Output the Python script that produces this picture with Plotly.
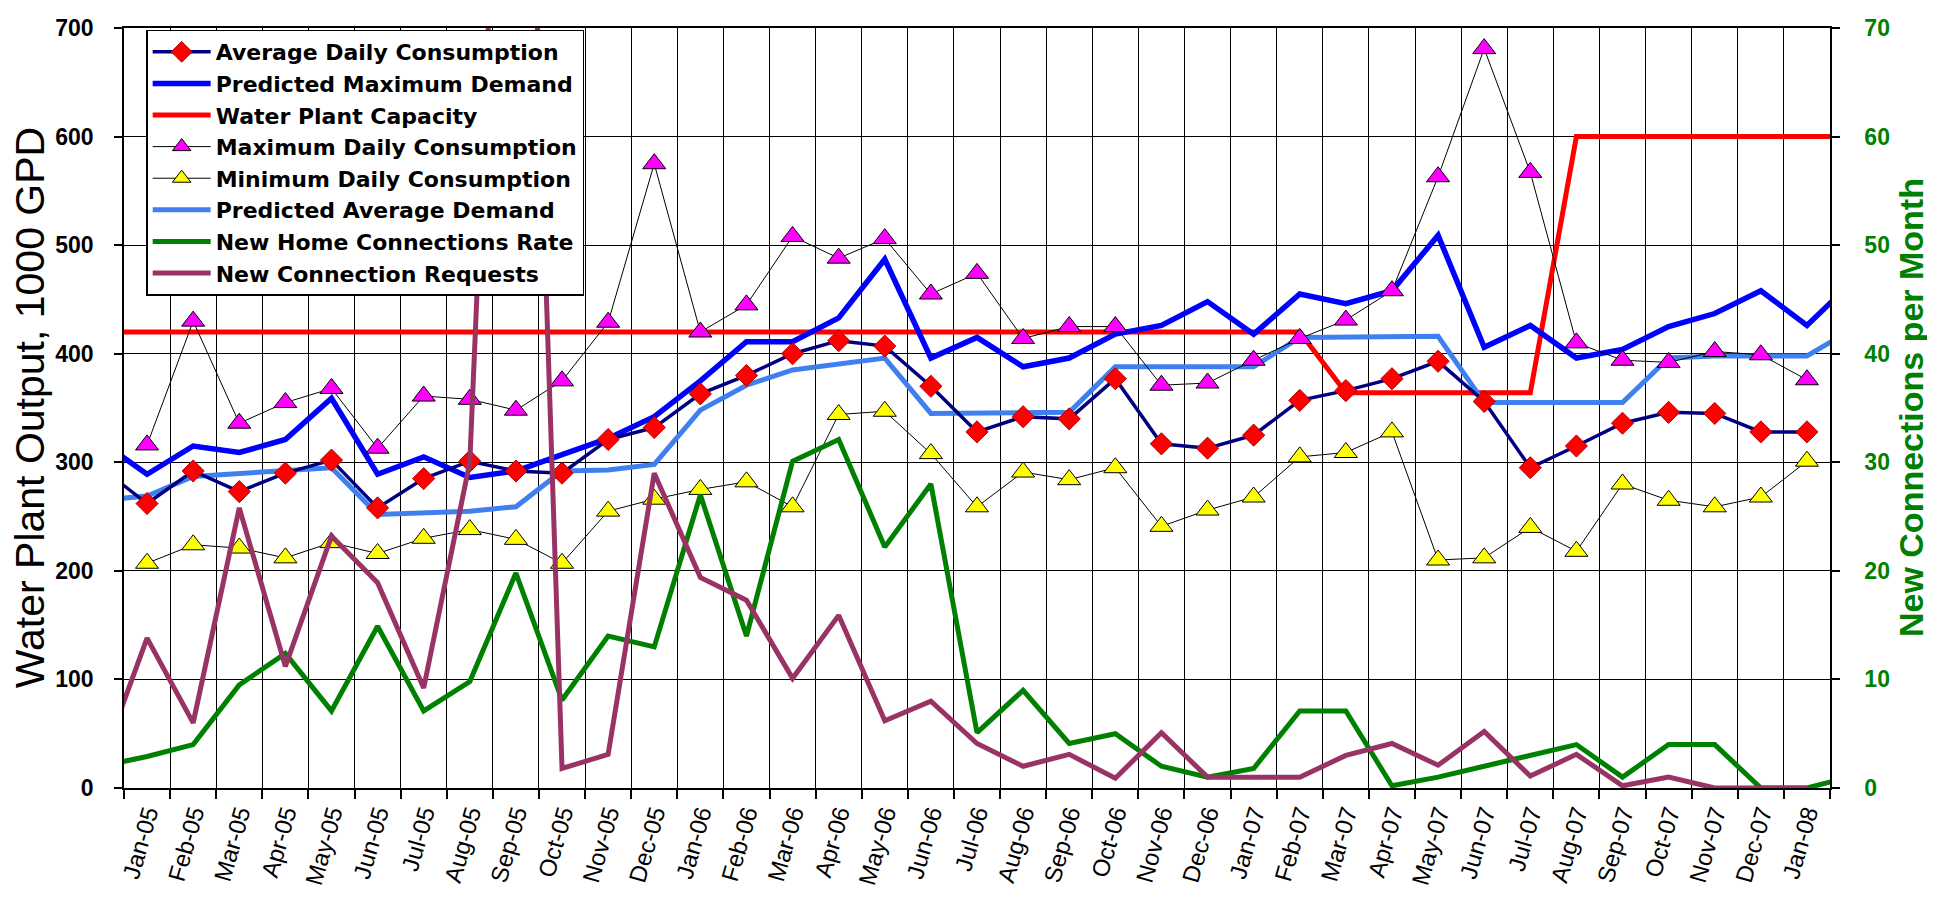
import plotly.graph_objects as go

months = ["Dec-04",
          "Jan-05", "Feb-05", "Mar-05", "Apr-05", "May-05", "Jun-05", "Jul-05", "Aug-05", "Sep-05", "Oct-05", "Nov-05", "Dec-05",
          "Jan-06", "Feb-06", "Mar-06", "Apr-06", "May-06", "Jun-06", "Jul-06", "Aug-06", "Sep-06", "Oct-06", "Nov-06", "Dec-06",
          "Jan-07", "Feb-07", "Mar-07", "Apr-07", "May-07", "Jun-07", "Jul-07", "Aug-07", "Sep-07", "Oct-07", "Nov-07", "Dec-07",
          "Jan-08", "Feb-08"]

avg_daily = [295,
             262, 292, 273, 290, 302, 258, 285, 301, 292, 290, 321, 332,
             363, 380, 400, 412, 407, 370, 328, 342, 340, 377, 317, 313,
             325, 357, 366, 377, 393, 356, 295, 315, 336, 346, 345, 328,
             328, None]

pred_max = [319,
            289, 315, 309, 321, 359, 289, 305, 286, 292, 307, 322, 342,
            375, 411, 411, 433, 487, 396, 415, 388, 396, 418, 426, 448,
            418, 455, 446, 458, 509, 406, 426, 396, 404, 425, 437, 458,
            426, 467]

capacity = [420,
            420, 420, 420, 420, 420, 420, 420, 420, 420, 420, 420, 420,
            420, 420, 420, 420, 420, 420, 420, 420, 420, 420, 420, 420,
            420, 420, 364, 364, 364, 364, 364, 600, 600, 600, 600, 600,
            600, 600]

max_daily = [None,
             316, 430, 336, 355, 368, 313, 361, 358, 348, 375, 429, 575,
             420, 445, 508, 488, 506, 455, 474, 414, 425, 425, 371, 373,
             394, 414, 431, 458, 563, 681, 567, 410, 394, 392, 402, 399,
             376, None]

min_daily = [None,
             207, 224, 221, 212, 226, 216, 230, 238, 229, 207, 255, 266,
             275, 282, 259, 344, 347, 308, 259, 291, 284, 295, 241, 256,
             268, 305, 309, 328, 210, 212, 240, 218, 280, 265, 259, 268,
             301, None]

pred_avg = [265,
            269, 287, 290, 292, 295, 252, 253, 255, 259, 292, 293, 298,
            348, 371, 385, 390, 396, 345, 345, 345, 346, 388, 388, 388,
            388, 415, 415, 415, 416, 355, 355, 355, 355, 396, 398, 398,
            398, 423]

new_home_rate = [2.0,
                 2.9, 4.0, 9.5, 12.4, 7.1, 14.9, 7.1, 9.8, 19.8, 8.1, 14.0, 13.0,
                 27.0, 14.0, 30.1, 32.1, 22.2, 28.0, 5.1, 9.0, 4.1, 5.0, 2.0, 1.0,
                 1.8, 7.1, 7.1, 0.2, 1.0, 2.0, 3.0, 4.0, 1.0, 4.0, 4.0, 0.0,
                 0.0, 1.1]

new_requests = [2.2,
                13.8, 6.0, 25.8, 11.2, 23.2, 18.9, 9.2, 30.0, 130.0, 1.8, 3.1, 29.0,
                19.4, 17.3, 10.1, 15.9, 6.2, 8.0, 4.1, 2.0, 3.1, 0.9, 5.1, 1.0,
                1.0, 1.0, 3.0, 4.1, 2.1, 5.2, 1.1, 3.1, 0.2, 1.0, 0.0, 0.0,
                0.0, None]

left_ticks = [0, 100, 200, 300, 400, 500, 600, 700]
right_ticks = [0, 10, 20, 30, 40, 50, 60, 70]

left_title = "Water Plant Output, 1000 GPD"
right_title = "New Connections per Month"

GREEN = "#008000"
FONT = "Liberation Sans, Arial, sans-serif"

fig = go.Figure()

fig.add_trace(go.Scatter(x=months, y=capacity, name="Water Plant Capacity", mode="lines",
                         line=dict(color="#FF0000", width=5), legendrank=3, legendgroup="g3"))
fig.add_trace(go.Scatter(x=months, y=pred_max, name="Predicted Maximum Demand", mode="lines",
                         line=dict(color="#0000FF", width=5.5), legendrank=2, legendgroup="g2"))
fig.add_trace(go.Scatter(x=months, y=pred_avg, name="Predicted Average Demand", mode="lines",
                         line=dict(color="#4080EE", width=5), legendrank=6, legendgroup="g6"))
fig.add_trace(go.Scatter(x=months, y=new_home_rate, name="New Home Connections Rate", mode="lines",
                         line=dict(color=GREEN, width=5), yaxis="y2", legendrank=7, legendgroup="g7"))
fig.add_trace(go.Scatter(x=months, y=new_requests, name="New Connection Requests", mode="lines",
                         line=dict(color="#993366", width=5), yaxis="y2", legendrank=8, legendgroup="g8"))
fig.add_trace(go.Scatter(x=months, y=max_daily, name="Maximum Daily Consumption", mode="lines+markers",
                         line=dict(color="#000000", width=1),
                         marker=dict(symbol="triangle-up", size=20, color="#FF00FF",
                                     line=dict(color="#000000", width=1)), legendrank=4, legendgroup="g4"))
fig.add_trace(go.Scatter(x=months, y=min_daily, name="Minimum Daily Consumption", mode="lines+markers",
                         line=dict(color="#000000", width=1),
                         marker=dict(symbol="triangle-up", size=20, color="#FFFF00",
                                     line=dict(color="#000000", width=1)), legendrank=5, legendgroup="g5"))
fig.add_trace(go.Scatter(x=months, y=avg_daily, name="Average Daily Consumption", mode="lines+markers",
                         line=dict(color="#000080", width=3.5),
                         marker=dict(symbol="diamond", size=17, color="#FF0000",
                                     line=dict(color="#B00000", width=1)), legendrank=1, legendgroup="g1"))

fig.update_layout(
    width=1935, height=898,
    margin=dict(l=116, r=113, t=20, b=118, autoexpand=False),
    paper_bgcolor="#FFFFFF", plot_bgcolor="#FFFFFF",
    showlegend=True,
    legend=dict(x=0.013, y=0.998, xanchor="left", yanchor="top",
                bgcolor="#FFFFFF", bordercolor="#000000", borderwidth=1.5,
                font=dict(family="DejaVu Sans, Verdana, sans-serif", size=22, color="#000000", weight="bold"),
                itemwidth=58, tracegroupgap=0, traceorder="grouped"),
    xaxis=dict(type="category", categoryorder="array", categoryarray=months,
               range=[0.5, 37.5], tickson="boundaries",
               showgrid=True, gridcolor="#000000", gridwidth=1,
               showline=True, linecolor="#000000", linewidth=1.5, mirror=True,
               ticks="outside", ticklen=9, tickcolor="#000000", tickwidth=1.5,
               tickangle=-74, automargin=False, ticklabelstandoff=0,
               tickfont=dict(family=FONT, size=24, color="#000000")),
    yaxis=dict(range=[0, 700], tickvals=left_ticks, showgrid=True, gridcolor="#000000", gridwidth=1,
               showline=True, linecolor="#000000", linewidth=1.5,
               ticks="outside", ticklen=8, tickcolor="#000000", tickwidth=1.5,
               ticklabelstandoff=16, automargin=False, zeroline=False,
               tickfont=dict(family=FONT, size=23, color="#000000", weight="bold")),
    yaxis2=dict(range=[0, 70], tickvals=right_ticks, overlaying="y", side="right", showgrid=False,
                showline=True, linecolor="#000000", linewidth=1.5, zeroline=False,
                ticks="outside", ticklen=8, tickcolor="#000000", tickwidth=1.5,
                ticklabelstandoff=20, automargin=False,
                tickfont=dict(family=FONT, size=23, color=GREEN, weight="bold")),
    annotations=[
        dict(text=left_title, xref="paper", yref="paper", x=-0.055, y=0.5,
             xanchor="center", yanchor="middle", textangle=-90, showarrow=False,
             font=dict(family=FONT, size=41, color="#000000")),
        dict(text=right_title, xref="paper", yref="paper", x=1.0475, y=0.5,
             xanchor="center", yanchor="middle", textangle=-90, showarrow=False,
             font=dict(family=FONT, size=34, color=GREEN, weight="bold")),
    ],
)

fig.write_html("out.html")
